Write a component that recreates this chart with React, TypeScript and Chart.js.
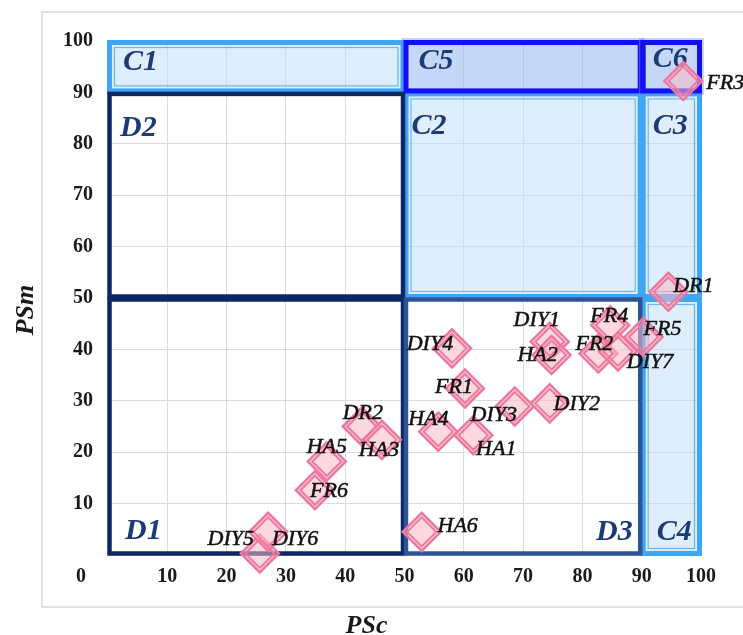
import React, { useEffect, useRef } from 'react';
import { Chart, registerables } from 'chart.js';

Chart.register(...registerables);

// ---- data ----
const pointNames = ['DIY5', 'DIY6', 'FR6', 'HA5', 'DR2', 'HA3', 'HA6', 'HA4', 'DIY4', 'FR1', 'HA1', 'DIY3', 'DIY2', 'DIY1', 'HA2', 'FR2', 'FR4', 'DIY7', 'FR5', 'DR1', 'FR3'];
const pscValues = [25.6, 27.0, 34.9, 36.9, 42.8, 46.2, 52.9, 55.7, 58.0, 60.2, 61.6, 68.6, 74.5, 74.5, 74.8, 82.7, 84.7, 86.0, 90.3, 94.5, 97.0];
const psmValues = [0.3, 4.5, 12.6, 18.2, 25.0, 22.4, 4.5, 24.0, 40.2, 32.4, 23.3, 28.9, 29.5, 41.5, 38.9, 39.2, 44.7, 39.6, 42.4, 51.2, 92.2];

// label placement relative to its marker (layout, px)
const labelOffsets = [[-29, -14], [27, 7], [14, 1], [0, -14], [1, -13], [-3, 10], [36, -6], [-10, -12], [-22, -4], [-11, -1], [23, 14], [-21, 9], [27, 1], [-13, -21], [-14, 0], [-4, -9], [-1, -9], [32, 11], [19, -8], [25, -6], [42, 2]];

const regionNames = ['C1', 'C2', 'C3', 'C4', 'C5', 'C6', 'D2', 'D1', 'D3'];
const regionX0 = [0, 50, 90, 90, 50, 90, 0, 0, 50];
const regionX1 = [50, 90, 100, 100, 90, 100, 50, 50, 90];
const regionY0 = [90, 50, 50, 0, 90, 90, 50, 0, 0];
const regionY1 = [100, 90, 90, 50, 100, 100, 90, 50, 50];
const regionKinds = ['light', 'light', 'light', 'light', 'dark', 'dark', 'navy', 'navy', 'steel'];
// region label anchor: corner, dx, dy, align
const regionLabelCorner = ['tl', 'tl', 'tl', 'bl', 'tl', 'tl', 'tl', 'bl', 'br'];
const regionLabelDx = [15, 7, 11, 15, 14, 11, 12, 17, -9];
const regionLabelDy = [21, 34, 34, -23, 20, 18, 36, -24, -23];

const xTicks = [0, 10, 20, 30, 40, 50, 60, 70, 80, 90, 100];
const yTicks = [0, 10, 20, 30, 40, 50, 60, 70, 80, 90, 100];

const SERIF = '"Liberation Serif", "Times New Roman", serif';

const overlayPlugin = {
  id: 'overlay',
  beforeDraw(chart: any) {
    const ctx = chart.ctx;
    ctx.save();
    ctx.strokeStyle = '#d9d9d9';
    ctx.lineWidth = 1.5;
    ctx.strokeRect(42, 12, 760, 595);
    ctx.restore();
  },
  beforeDatasetsDraw(chart: any) {
    const ctx = chart.ctx;
    const xs = chart.scales.x;
    const ys = chart.scales.y;
    ctx.save();
    const inset = 1.5;
    regionNames.forEach((_, i) => {
      const l = xs.getPixelForValue(regionX0[i]) + inset;
      const r = xs.getPixelForValue(regionX1[i]) - inset;
      const t = ys.getPixelForValue(regionY1[i]) + inset;
      const b = ys.getPixelForValue(regionY0[i]) - inset;
      const kind = regionKinds[i];
      if (kind === 'light') {
        ctx.fillStyle = 'rgba(190,222,250,0.5)';
        ctx.fillRect(l, t, r - l, b - t);
        ctx.strokeStyle = '#3ea6f5';
        ctx.lineWidth = 5;
        ctx.strokeRect(l, t, r - l, b - t);
        ctx.strokeStyle = 'rgba(62,166,245,0.75)';
        ctx.lineWidth = 1.2;
        ctx.strokeRect(l + 5, t + 5, r - l - 10, b - t - 10);
      } else if (kind === 'dark') {
        ctx.fillStyle = 'rgba(140,175,238,0.5)';
        ctx.fillRect(l, t, r - l, b - t);
        ctx.strokeStyle = 'rgba(120,120,255,0.6)';
        ctx.lineWidth = 1.2;
        ctx.strokeRect(l - 3.5, t - 3.5, r - l + 7, b - t + 7);
        ctx.strokeStyle = '#1010f2';
        ctx.lineWidth = 5;
        ctx.strokeRect(l, t, r - l, b - t);
      } else {
        ctx.strokeStyle = kind === 'navy' ? '#0d2765' : '#2f5496';
        ctx.lineWidth = 4.5;
        ctx.strokeRect(l, t, r - l, b - t);
      }
    });
    // region labels
    ctx.font = `italic bold 30px ${SERIF}`;
    ctx.fillStyle = '#1c3a78';
    ctx.textBaseline = 'middle';
    regionNames.forEach((name, i) => {
      const corner = regionLabelCorner[i];
      const xBase = corner === 'br' ? xs.getPixelForValue(regionX1[i]) : xs.getPixelForValue(regionX0[i]);
      const yBase = corner === 'tl' ? ys.getPixelForValue(regionY1[i]) : ys.getPixelForValue(regionY0[i]);
      ctx.textAlign = corner === 'br' ? 'right' : 'left';
      ctx.fillText(name, xBase + regionLabelDx[i], yBase + regionLabelDy[i]);
    });
    ctx.restore();
  },
  afterDatasetsDraw(chart: any) {
    const ctx = chart.ctx;
    const xs = chart.scales.x;
    const ys = chart.scales.y;
    ctx.save();
    ctx.font = `italic 22px ${SERIF}`;
    ctx.fillStyle = '#111111';
    ctx.strokeStyle = '#111111';
    ctx.lineWidth = 0.5;
    ctx.textAlign = 'center';
    ctx.textBaseline = 'middle';
    pointNames.forEach((name, i) => {
      const px = xs.getPixelForValue(pscValues[i]) + labelOffsets[i][0];
      const py = ys.getPixelForValue(psmValues[i]) + labelOffsets[i][1];
      ctx.fillText(name, px, py);
      ctx.strokeText(name, px, py);
    });
    // origin label
    ctx.font = `bold 20px ${SERIF}`;
    ctx.fillStyle = '#1a1a1a';
    ctx.fillText('0', xs.getPixelForValue(0) - 27, ys.getPixelForValue(0) + 22);
    // axis titles
    ctx.font = `italic bold 26px ${SERIF}`;
    ctx.fillStyle = '#1a1a1a';
    ctx.textBaseline = 'alphabetic';
    ctx.fillText('PSc', (xs.left + xs.right) / 2 - 38, 633);
    ctx.translate(33, (ys.top + ys.bottom) / 2 + 12);
    ctx.rotate(-Math.PI / 2);
    ctx.fillText('PSm', 0, 0);
    ctx.restore();
  },
};

export default function App() {
  const canvasRef = useRef<HTMLCanvasElement | null>(null);

  useEffect(() => {
    if (!canvasRef.current) return;
    const pts = pointNames.map((_, i) => ({ x: pscValues[i], y: psmValues[i] }));
    const tickFont = { family: SERIF, size: 20, weight: 'bold' as const };
    const chart = new Chart(canvasRef.current, {
      type: 'scatter',
      data: {
        datasets: [
          {
            data: pts,
            pointStyle: 'rectRot',
            pointRadius: 14.5,
            pointHoverRadius: 14.5,
            pointBorderWidth: 2,
            pointBorderColor: '#f0789f',
            pointBackgroundColor: 'rgba(0,0,0,0)',
            clip: false,
          } as any,
          {
            data: pts,
            pointStyle: 'rectRot',
            pointRadius: 19,
            pointHoverRadius: 19,
            pointBorderWidth: 2.5,
            pointBorderColor: '#f0789f',
            pointBackgroundColor: 'rgba(250,185,200,0.55)',
            clip: false,
          } as any,
        ],
      },
      options: {
        animation: false,
        responsive: false,
        devicePixelRatio: 1,
        layout: { padding: { left: 63, right: 42, top: 41, bottom: 30 } },
        plugins: {
          legend: { display: false },
          tooltip: { enabled: false },
          title: { display: false },
        },
        events: [],
        scales: {
          x: {
            type: 'linear',
            min: 0,
            max: 100,
            afterBuildTicks: (scale: any) => {
              scale.ticks = xTicks.map((v) => ({ value: v }));
            },
            afterFit: (scale: any) => {
              scale.height = 50;
            },
            ticks: {
              font: tickFont,
              color: '#1a1a1a',
              padding: 10,
              maxRotation: 0,
              callback: (v: any) => (v === 0 ? '' : String(v)),
            },
            grid: { color: '#dcdcdc', lineWidth: 1, drawTicks: false },
            border: { display: false },
          },
          y: {
            type: 'linear',
            min: 0,
            max: 100,
            afterBuildTicks: (scale: any) => {
              scale.ticks = yTicks.map((v) => ({ value: v }));
            },
            afterFit: (scale: any) => {
              scale.width = 45;
            },
            ticks: {
              font: tickFont,
              color: '#1a1a1a',
              padding: 15,
              callback: (v: any) => (v === 0 ? '' : String(v)),
            },
            grid: { color: '#dcdcdc', lineWidth: 1, drawTicks: false },
            border: { display: false },
          },
        },
      },
      plugins: [overlayPlugin],
    });
    return () => chart.destroy();
  }, []);

  return (
    <div style={{ position: 'absolute', left: 0, top: 0, width: 743, height: 635, background: '#ffffff' }}>
      <canvas ref={canvasRef} width={743} height={635} style={{ display: 'block' }} />
    </div>
  );
}
